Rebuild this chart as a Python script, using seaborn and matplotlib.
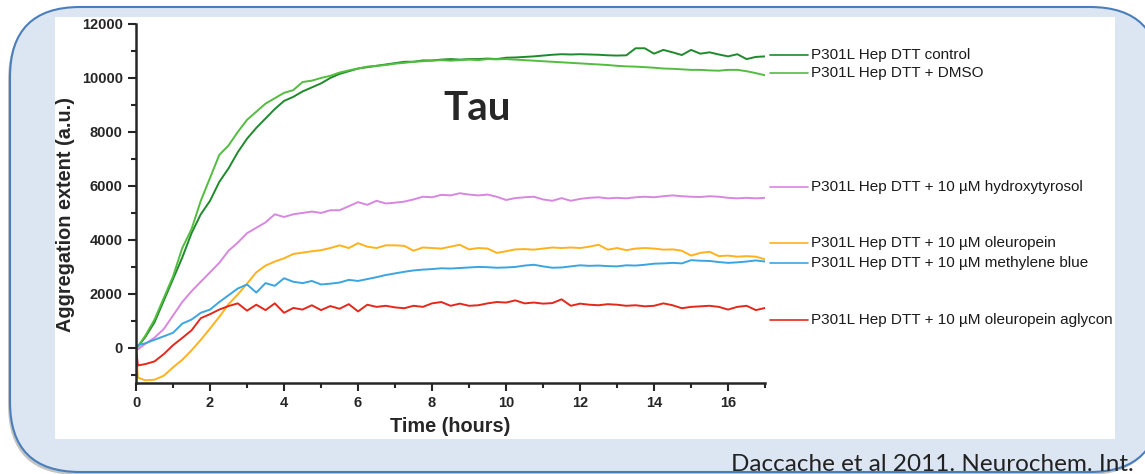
import matplotlib
matplotlib.use("Agg")
import matplotlib.pyplot as plt
import matplotlib.transforms as mtransforms
from matplotlib.patches import FancyBboxPatch, Rectangle
from matplotlib.ticker import MultipleLocator
import seaborn as sns
import pandas as pd

# time grid (hours)
time_h = [0, 0.05, 0.25, 0.5, 0.75, 1.0, 1.25, 1.5, 1.75, 2.0, 2.25, 2.5, 2.75, 3.0, 3.25, 3.5,
          3.75, 4.0, 4.25, 4.5, 4.75, 5.0, 5.25, 5.5, 5.75, 6.0, 6.25, 6.5, 6.75, 7.0, 7.25, 7.5,
          7.75, 8.0, 8.25, 8.5, 8.75, 9.0, 9.25, 9.5, 9.75, 10.0, 10.25, 10.5, 10.75, 11.0, 11.25,
          11.5, 11.75, 12.0, 12.25, 12.5, 12.75, 13.0, 13.25, 13.5, 13.75, 14.0, 14.25, 14.5, 14.75,
          15.0, 15.25, 15.5, 15.75, 16.0, 16.25, 16.5, 16.75, 17.0]

control = [0, 50, 400, 950, 1750, 2550, 3350, 4250, 4950, 5450, 6150, 6650, 7250, 7750, 8150, 8500,
           8850, 9150, 9300, 9500, 9650, 9800, 10000, 10150, 10250, 10350, 10400, 10450, 10500, 10550, 10600, 10600,
           10650, 10650, 10680, 10700, 10680, 10700, 10700, 10720, 10700, 10750, 10760, 10780, 10800, 10830, 10860,
           10880, 10870, 10880, 10870, 10860, 10840, 10830, 10840, 11100, 11100, 10900, 11040, 10950, 10850,
           11040, 10900, 10950, 10870, 10800, 10880, 10700, 10780, 10800]

dmso = [0, 50, 450, 1050, 1850, 2650, 3700, 4400, 5450, 6300, 7150, 7500, 8000, 8450, 8750, 9050,
        9250, 9450, 9550, 9850, 9900, 10000, 10080, 10200, 10280, 10350, 10420, 10450, 10480, 10530, 10560, 10600,
        10620, 10640, 10660, 10640, 10660, 10680, 10660, 10700, 10690, 10700, 10680, 10660, 10640, 10620, 10600,
        10580, 10560, 10540, 10520, 10500, 10480, 10450, 10430, 10420, 10400, 10380, 10350, 10340, 10320,
        10300, 10300, 10280, 10270, 10300, 10300, 10250, 10180, 10100]

hydroxytyrosol = [0, -50, 150, 380, 700, 1200, 1700, 2100, 2450, 2800, 3150, 3600, 3900, 4250, 4450, 4650,
                  4950, 4850, 4950, 5000, 5050, 5000, 5100, 5100, 5250, 5400, 5300, 5450, 5350, 5380, 5420, 5500,
                  5600, 5580, 5670, 5650, 5730, 5680, 5650, 5680, 5600, 5480, 5550, 5580, 5600, 5500, 5450,
                  5550, 5450, 5520, 5560, 5580, 5540, 5560, 5540, 5580, 5600, 5580, 5620, 5650, 5620,
                  5600, 5590, 5620, 5600, 5560, 5540, 5560, 5540, 5560]

oleuropein = [0, -1100, -1200, -1180, -1030, -720, -440, -90, 300, 720, 1150, 1620, 1980, 2380, 2800, 3050,
              3200, 3320, 3480, 3530, 3580, 3620, 3700, 3800, 3700, 3880, 3750, 3700, 3800, 3800, 3780, 3600,
              3720, 3700, 3680, 3750, 3820, 3650, 3700, 3680, 3520, 3580, 3650, 3660, 3640, 3680, 3720,
              3700, 3720, 3700, 3750, 3820, 3640, 3700, 3620, 3680, 3700, 3680, 3640, 3650, 3600,
              3420, 3520, 3560, 3400, 3420, 3380, 3400, 3380, 3280]

methylene_blue = [50, 100, 170, 300, 430, 560, 900, 1050, 1300, 1420, 1700, 1950, 2200, 2350, 2050, 2400,
                  2300, 2580, 2450, 2400, 2480, 2350, 2380, 2420, 2520, 2480, 2550, 2620, 2700, 2760, 2820, 2870,
                  2900, 2920, 2950, 2940, 2960, 2980, 3000, 2990, 2970, 2980, 3000, 3050, 3080, 3020, 2970,
                  2980, 3020, 3060, 3040, 3050, 3030, 3020, 3060, 3050, 3080, 3120, 3130, 3150, 3130,
                  3250, 3230, 3220, 3180, 3150, 3170, 3200, 3240, 3200]

aglycon = [0, -650, -600, -500, -230, 100, 370, 650, 1100, 1250, 1420, 1550, 1650, 1380, 1600, 1400,
           1650, 1300, 1480, 1420, 1580, 1400, 1550, 1450, 1620, 1350, 1600, 1520, 1560, 1500, 1470, 1560,
           1520, 1650, 1700, 1560, 1640, 1560, 1580, 1650, 1700, 1680, 1760, 1650, 1680, 1640, 1660,
           1800, 1560, 1640, 1600, 1580, 1620, 1600, 1560, 1580, 1540, 1560, 1650, 1580, 1470,
           1520, 1540, 1560, 1520, 1420, 1520, 1560, 1400, 1480]

labels = ["P301L Hep DTT control", "P301L Hep DTT + DMSO",
          "P301L Hep DTT + 10 \u00b5M hydroxytyrosol", "P301L Hep DTT + 10 \u00b5M oleuropein",
          "P301L Hep DTT + 10 \u00b5M methylene blue", "P301L Hep DTT + 10 \u00b5M oleuropein aglycon"]
colors = ["#1f8a2c", "#52bd3f", "#d887e0", "#ffb21e", "#3ba5df", "#e2291c"]
# vertical placement of the right-hand labels (data units)
label_y = [10850, 10190, 5960, 3890, 3150, 1040]

series = [control, dmso, hydroxytyrosol, oleuropein, methylene_blue, aglycon]
df = pd.concat([pd.DataFrame({"Time": time_h, "Value": s, "Sample": lab})
                for s, lab in zip(series, labels)], ignore_index=True)

sns.set_style("ticks")
plt.rcParams['font.family'] = ['Liberation Sans', 'DejaVu Sans']

fig = plt.figure(figsize=(11.45, 4.74), dpi=100)
fig.patch.set_facecolor("white")

# rounded slide panel + white picture area
shadow = FancyBboxPatch((0.08, -0.01), 11.5, 4.65, boxstyle="round,pad=0,rounding_size=0.7",
                        transform=fig.dpi_scale_trans, fc="#8a8a8a", ec="none", alpha=0.5, zorder=0)
panel = FancyBboxPatch((0.10, 0.02), 11.5, 4.65, boxstyle="round,pad=0,rounding_size=0.7",
                       transform=fig.dpi_scale_trans, fc="#dce6f2", ec="#4a7ebb", lw=1.5, zorder=1)
white = Rectangle((0.55, 0.35), 10.60, 4.22, transform=fig.dpi_scale_trans,
                  fc="white", ec="none", zorder=2)
for p in (shadow, panel, white):
    fig.patches.append(p)

ax = fig.add_axes([0.1188, 0.192, 0.5494, 0.7574])
ax.set_zorder(3)
ax.patch.set_alpha(0)

sns.lineplot(data=df, x="Time", y="Value", hue="Sample", palette=colors,
             hue_order=labels, linewidth=1.4, legend=False, ax=ax)

ax.set_xlim(0, 17)
ax.set_ylim(-1300, 12000)
ax.xaxis.set_major_locator(MultipleLocator(2))
ax.xaxis.set_minor_locator(MultipleLocator(1))
ax.yaxis.set_major_locator(MultipleLocator(2000))
ax.yaxis.set_minor_locator(MultipleLocator(1000))
ax.tick_params(which="major", length=6, width=1.5, labelsize=10.5, direction="out")
ax.tick_params(which="minor", length=3.5, width=1.5, direction="out")
for lab in ax.get_xticklabels() + ax.get_yticklabels():
    lab.set_fontweight("bold")
sns.despine(ax=ax)
for side in ("left", "bottom"):
    ax.spines[side].set_linewidth(1.8)

ax.set_xlabel("Time (hours)", fontsize=14.3, fontweight="bold", labelpad=5)
ax.set_ylabel("Aggregation extent (a.u.)", fontsize=14.3, fontweight="bold", labelpad=4)
ax.yaxis.set_label_coords(-0.097, 0.47)

# labels to the right of the curves
trans = mtransforms.blended_transform_factory(ax.transAxes, ax.transData)
for lab, col, y in zip(labels, colors, label_y):
    ax.plot([1.008, 1.068], [y, y], color=col, lw=1.2, transform=trans, clip_on=False)
    ax.text(1.073, y, lab, transform=trans, fontsize=11, va="center", ha="left", color="#1a1a1a")

fig.text(0.4166, 0.772, "Tau", fontsize=29, fontweight="bold", family=["Lato", "DejaVu Sans"],
         ha="center", va="center", zorder=5)
fig.text(0.9905, 0.006, "Daccache et al 2011. Neurochem. Int.", fontsize=17.5,
         family=["Lato", "DejaVu Sans"], ha="right", va="baseline", color="#222222", zorder=5)

fig.savefig("out.png", dpi=100, facecolor=fig.get_facecolor())
